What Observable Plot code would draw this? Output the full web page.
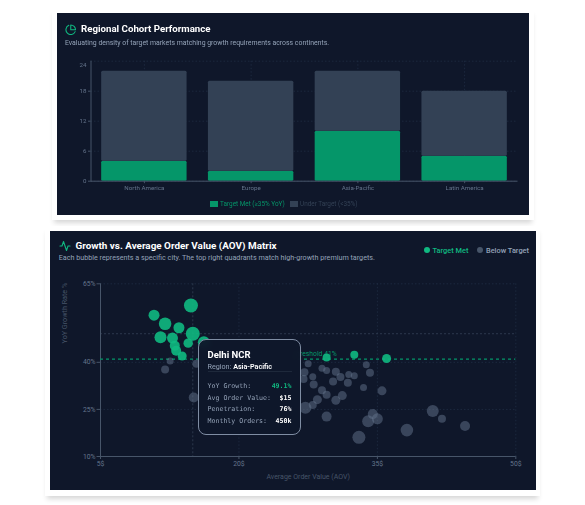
<!DOCTYPE html>
<html>
<head>
<meta charset="utf-8">
<script src="https://cdn.jsdelivr.net/npm/d3@7"></script>
<script src="https://cdn.jsdelivr.net/npm/@observablehq/plot@0.6"></script>
<style>
html,body{margin:0;padding:0;background:#fff;width:585px;height:505px;overflow:hidden;font-family:Roboto,sans-serif}
.wrap{position:absolute;background:#fff;box-shadow:0 5px 5px -2px rgba(0,0,0,.16)}
.card{position:absolute;background:#0f172a;overflow:hidden;filter:blur(.3px)}
.card svg.plot{position:absolute;left:0;top:0}
.t{position:absolute;white-space:nowrap;line-height:1}
.title{color:#fff;font-weight:700}
.sub{color:#94a3b8}
.icon{position:absolute;fill:none;stroke-linecap:round;stroke-linejoin:round}
.sw{position:absolute}
#tip{position:absolute;left:148px;top:108px;width:103px;height:96px;box-sizing:border-box;border:1px solid #7f8da3;border-radius:8px;background:rgba(15,23,42,.95);backdrop-filter:blur(3px);color:#fff}
#tip .row{position:absolute;left:8.5px;right:8.5px;display:flex;justify-content:space-between;font:6.6px "DejaVu Sans Mono",monospace;line-height:1;color:#94a3b8}
#tip .row b{color:#fff;font-weight:700}
#tip hr{position:absolute;left:8.5px;right:8.5px;top:31px;margin:0;border:0;border-top:1px solid #1e293b}
</style>
</head>
<body>
<div class="wrap" style="left:52px;top:8px;width:482px;height:212px"></div>
<div class="wrap" style="left:45px;top:226px;width:495px;height:270px"></div>
<div class="card" id="c1" style="left:57px;top:13px;width:472px;height:201.5px">
  <svg class="icon" style="left:8px;top:10.5px" width="11.5" height="11.5" viewBox="0 0 24 24" stroke="#10b981" stroke-width="2.2"><path d="M21.21 15.89A10 10 0 1 1 8 2.83"/><path d="M22 12A10 10 0 0 0 12 2v10z"/></svg>
  <div class="t title" style="left:24px;top:11.4px;font-size:9.7px">Regional Cohort Performance</div>
  <div class="t sub" style="left:8px;top:26.6px;font-size:6.9px">Evaluating density of target markets matching growth requirements across continents.</div>
  <div class="sw" style="left:153px;top:187.7px;width:7.7px;height:6.3px;background:#059669"></div>
  <div class="t" style="left:163px;top:187.8px;font-size:6.4px;color:#059669">Target Met (≥35% YoY)</div>
  <div class="sw" style="left:233px;top:187.7px;width:7.7px;height:6.3px;background:#334155"></div>
  <div class="t" style="left:243px;top:187.8px;font-size:6.4px;color:#334155">Under Target (&lt;35%)</div>
</div>
<div class="card" id="c2" style="left:50px;top:231px;width:486px;height:259px">
  <svg class="icon" style="left:8.5px;top:8.5px" width="12" height="12" viewBox="0 0 24 24" stroke="#10b981" stroke-width="2.2"><path d="M22 12h-4l-3 9L9 3l-3 9H2"/></svg>
  <div class="t title" style="left:25.5px;top:9.8px;font-size:9.9px">Growth vs. Average Order Value (AOV) Matrix</div>
  <div class="t sub" style="left:8.7px;top:23px;font-size:7.2px">Each bubble represents a specific city. The top right quadrants match high-growth premium targets.</div>
  <div class="sw" style="left:374px;top:16px;width:6px;height:6px;border-radius:50%;background:#10b981"></div>
  <div class="t" style="left:382.5px;top:15.6px;font-size:7.4px;font-weight:500;color:#10b981">Target Met</div>
  <div class="sw" style="left:427px;top:16px;width:6px;height:6px;border-radius:50%;background:#475569"></div>
  <div class="t" style="left:436px;top:15.6px;font-size:7.4px;font-weight:500;color:#94a3b8">Below Target</div>
  <div id="tip">
    <div class="t" style="left:8.5px;top:9.5px;font-size:9.5px;font-weight:700">Delhi NCR</div>
    <div class="t" style="left:8.5px;top:23px;font-size:7.2px;color:#94a3b8">Region: <span style="color:#fff;font-weight:600">Asia-Pacific</span></div>
    <hr>
    <div class="row" style="top:42.5px"><span>YoY Growth:</span><b style="color:#10b981">49.1%</b></div>
    <div class="row" style="top:54.5px"><span>Avg Order Value:</span><b>$15</b></div>
    <div class="row" style="top:66.3px"><span>Penetration:</span><b>76%</b></div>
    <div class="row" style="top:78.2px"><span>Monthly Orders:</span><b>450k</b></div>
  </div>
</div>
<script>
const regions = ["North America", "Europe", "Asia-Pacific", "Latin America"];
const targetMet = [4, 2, 10, 5];
const underTarget = [18, 18, 12, 13];
const cohortTicks = [0, 6, 12, 18];
const cohortTopTick = [24];
const seriesNames = ["Target Met", "Under Target"];

const metAov  = [10.8, 12.0, 13.5, 14.8, 11.5, 12.8, 15.0, 14.5, 13.05, 13.2, 13.85, 16.2, 29.5, 32.5, 36.0];
const metYoy  = [55.0, 52.3, 51.0, 58.1, 48.0, 47.7, 49.1, 46.1, 45.3, 43.7, 42.0, 46.4, 41.5, 42.4, 41.2];
const metSize = [5.5, 6.3, 5.5, 7, 6, 5.5, 7, 4.7, 5, 5, 4.5, 6, 4, 4, 4.5];

const belowAov  = [12.55, 12.0, 15.4, 15.1, 27.5, 27.1, 27.0, 28.0, 28.1, 29.0, 29.5, 30.5, 31.0, 30.2, 31.9, 32.5, 31.8, 33.8, 34.2, 33.5, 35.5, 29.0, 29.5, 28.5, 31.2, 30.5, 28.0, 27.2, 29.5, 34.0, 34.5, 35.0, 33.0, 38.2, 41.0, 42.0, 44.5];
const belowYoy  = [40.4, 37.7, 39.5, 28.8, 39.5, 36.8, 34.7, 35.4, 32.9, 38.1, 37.4, 37.0, 35.3, 33.9, 36.1, 35.7, 33.5, 39.2, 36.7, 32.0, 30.9, 31.1, 29.7, 28.1, 29.4, 27.9, 26.4, 25.5, 22.7, 21.2, 23.5, 22.0, 16.1, 18.4, 24.5, 22.0, 19.7];
const belowSize = [3.5, 4, 4, 5, 3.5, 4, 4, 3.5, 4, 3.5, 3.5, 4, 4, 4, 3.5, 3.5, 4, 3.5, 4, 3.5, 4.5, 4, 4, 4.5, 4.5, 4.5, 4, 6, 5, 6, 5, 5.5, 6.5, 6.3, 6, 4, 5];

const aovTicks = [5, 20, 35, 50];
const yoyTicks = [10, 25, 40, 65];
const threshold = 41;
const focusAov = 15;
const focusYoy = 49.1;

const axisColor = "#475569", gridColor = "#233047", tickText = "#64748b";
const zip = (a, b, c) => a.map((d, i) => ({aov: d, yoy: b[i], size: c[i]}));

const cohort = [
  ...regions.map((r, i) => ({region: r, series: seriesNames[0], count: targetMet[i]})),
  ...regions.map((r, i) => ({region: r, series: seriesNames[1], count: underTarget[i]}))
];

const chart1 = Plot.plot({
  width: 472, height: 201.5,
  marginLeft: 33.5, marginRight: 11.5, marginTop: 47.7, marginBottom: 33.8,
  style: {background: "transparent", fontFamily: "Roboto, sans-serif", fontSize: "6.2px", overflow: "visible"},
  x: {domain: regions, paddingInner: 0.2, paddingOuter: 0.1, round: false, label: null},
  y: {domain: [0, 24], label: null},
  color: {domain: seriesNames, range: ["#059669", "#334155"]},
  marks: [
    Plot.gridY([...cohortTicks, ...cohortTopTick], {stroke: gridColor, strokeOpacity: 1, strokeWidth: 0.7, strokeDasharray: "1.5,2"}),
    Plot.gridX(regions, {stroke: gridColor, strokeOpacity: 1, strokeWidth: 0.7, strokeDasharray: "1.5,2"}),
    Plot.barY(cohort, {x: "region", y: "count", fill: "series", rx: 1.5, order: seriesNames}),
    Plot.frame({anchor: "left", stroke: axisColor}),
    Plot.ruleY([0], {stroke: axisColor}),
    Plot.axisY(cohortTicks, {tickSize: 2.5, tickPadding: 2, stroke: axisColor, fill: tickText, label: null}),
    Plot.axisY(cohortTopTick, {tickSize: 0, tickPadding: 4.5, fill: tickText, label: null, dy: 4}),
    Plot.axisX(regions, {tickSize: 2.5, tickPadding: 2, stroke: axisColor, fill: tickText, label: null})
  ]
});
document.getElementById("c1").prepend(chart1);

const chart2 = Plot.plot({
  width: 486, height: 259,
  marginLeft: 50, marginRight: 20.7, marginTop: 52.3, marginBottom: 34,
  style: {background: "transparent", fontFamily: "Roboto, sans-serif", fontSize: "6.8px", overflow: "visible"},
  x: {domain: [5, 50], label: null},
  y: {domain: [10, 65], label: null},
  r: {type: "identity"},
  marks: [
    Plot.gridX(aovTicks, {stroke: gridColor, strokeOpacity: 1, strokeWidth: 0.7, strokeDasharray: "1.5,2"}),
    Plot.gridY(yoyTicks, {stroke: gridColor, strokeOpacity: 1, strokeWidth: 0.7, strokeDasharray: "1.5,2"}),
    Plot.ruleX([focusAov], {stroke: "#334155", strokeWidth: 0.8, strokeDasharray: "2,2"}),
    Plot.ruleY([focusYoy], {stroke: "#334155", strokeWidth: 0.8, strokeDasharray: "2,2"}),
    Plot.ruleX([aovTicks[0]], {stroke: axisColor}),
    Plot.ruleY([yoyTicks[0]], {stroke: axisColor}),
    Plot.axisY(yoyTicks, {tickSize: 3.5, tickPadding: 1.5, stroke: axisColor, fill: tickText, label: null, tickFormat: d => `${d}%`}),
    Plot.axisX(aovTicks, {tickSize: 3, tickPadding: 2, stroke: axisColor, fill: tickText, label: null, tickFormat: d => `${d}$`}),
    Plot.text(["YoY Growth Rate %"], {frameAnchor: "left", y: [46], dx: -36, rotate: -90, fill: "#475569", fontSize: 7.2}),
    Plot.text(["Average Order Value (AOV)"], {frameAnchor: "bottom", dy: 22.3, fill: "#475569", fontSize: 7}),
    Plot.ruleY([threshold], {stroke: "#059669", strokeWidth: 1.4, strokeDasharray: "3,3"}),
    Plot.text(["Threshold 41%"], {x: [30.6], y: [threshold], dy: -5.5, textAnchor: "end", fill: "#059669", fontSize: 6.8}),
    Plot.dot(zip(belowAov, belowYoy, belowSize), {x: "aov", y: "yoy", r: "size", fill: "#64748b", fillOpacity: 0.5}),
    Plot.dot(zip(metAov, metYoy, metSize), {x: "aov", y: "yoy", r: "size", fill: "#10b981", fillOpacity: 0.9})
  ]
});
document.getElementById("c2").prepend(chart2);
</script>
</body>
</html>
